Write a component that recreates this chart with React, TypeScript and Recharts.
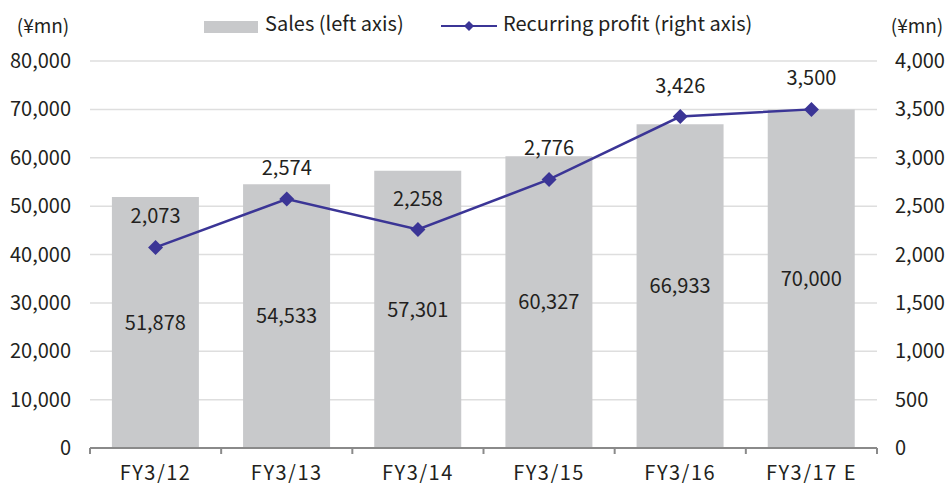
import {
  Bar,
  CartesianGrid,
  ComposedChart,
  LabelList,
  Line,
  XAxis,
  YAxis,
} from 'recharts';

const categories = ['FY3/12', 'FY3/13', 'FY3/14', 'FY3/15', 'FY3/16', 'FY3/17 E'];
const sales = [51878, 54533, 57301, 60327, 66933, 70000];
const profit = [2073, 2574, 2258, 2776, 3426, 3500];

const salesTicks = [0, 10000, 20000, 30000, 40000, 50000, 60000, 70000, 80000];
const profitTicks = [0, 500, 1000, 1500, 2000, 2500, 3000, 3500, 4000];

const BAR_COLOR = '#c8c9cb';
const LINE_COLOR = '#3b3596';
const AXIS_COLOR = '#8a8a8a';
const TEXT_COLOR = '#231f20';
const FONT = '"Noto Sans CJK JP", "Noto Sans", sans-serif';

const WIDTH = 949;
const HEIGHT = 483;
const LEFT_W = 90;
const RIGHT_W = 72;
// half a category band, used to put the small tick marks on category boundaries
const HALF_BAND = (WIDTH - LEFT_W - RIGHT_W) / categories.length / 2;

const fmt = (v: number) => Number(v).toLocaleString('en-US');

const data = categories.map((name, i) => ({ name, sales: sales[i], profit: profit[i] }));

function Diamond(props: any) {
  const { cx, cy } = props;
  if (cx == null || cy == null) return null;
  const r = 7.5;
  return (
    <polygon
      points={`${cx},${cy - r} ${cx + r},${cy} ${cx},${cy + r} ${cx - r},${cy}`}
      fill={LINE_COLOR}
    />
  );
}

function CategoryTick(props: any) {
  const { x, y, payload, index } = props;
  const last = index === categories.length - 1;
  return (
    <g>
      <line x1={x - HALF_BAND} y1={y - 19} x2={x - HALF_BAND} y2={y - 13} stroke={AXIS_COLOR} strokeWidth={2} />
      {last && (
        <line x1={x + HALF_BAND} y1={y - 19} x2={x + HALF_BAND} y2={y - 13} stroke={AXIS_COLOR} strokeWidth={2} />
      )}
      <text
        x={x}
        y={y + 13}
        textAnchor="middle"
        fontSize={20}
        letterSpacing={1.5}
        fill={TEXT_COLOR}
        fontFamily={FONT}
      >
        {payload.value}
      </text>
    </g>
  );
}

export default function App() {
  const tickStyle = { fontSize: 20, fill: TEXT_COLOR, fontFamily: FONT };
  return (
    <div
      style={{
        position: 'fixed',
        left: 0,
        top: 0,
        width: WIDTH,
        height: HEIGHT,
        background: '#fff',
        fontFamily: FONT,
        color: TEXT_COLOR,
      }}
    >
      <ComposedChart
        width={WIDTH}
        height={HEIGHT}
        data={data}
        margin={{ top: 61, right: 0, left: 0, bottom: 0 }}
        barCategoryGap="16.7%"
      >
        <CartesianGrid yAxisId="left" vertical={false} stroke="#dedede" strokeWidth={1.5} />
        <XAxis
          dataKey="name"
          axisLine={{ stroke: AXIS_COLOR, strokeWidth: 2 }}
          tickLine={false}
          tickSize={0}
          tickMargin={19}
          tick={<CategoryTick />}
          height={35}
          interval={0}
        />
        <YAxis
          yAxisId="left"
          domain={[0, 80000]}
          ticks={salesTicks}
          tickFormatter={fmt}
          axisLine={false}
          tickLine={false}
          tickSize={0}
          tickMargin={19}
          tick={tickStyle}
          width={LEFT_W}
          label={{
            value: '(¥mn)',
            position: 'top',
            offset: 28,
            dx: -2,
            style: { fontSize: 19, fill: TEXT_COLOR, fontFamily: FONT },
          }}
        />
        <YAxis
          yAxisId="right"
          orientation="right"
          domain={[0, 4000]}
          ticks={profitTicks}
          tickFormatter={fmt}
          axisLine={false}
          tickLine={false}
          tickSize={0}
          tickMargin={18}
          tick={{ ...tickStyle, textAnchor: 'start' }}
          width={RIGHT_W}
          label={{
            value: '(¥mn)',
            position: 'top',
            offset: 28,
            dx: 4,
            style: { fontSize: 19, fill: TEXT_COLOR, fontFamily: FONT },
          }}
        />
        <Bar yAxisId="left" dataKey="sales" fill={BAR_COLOR} isAnimationActive={false}>
          <LabelList
            dataKey="sales"
            position="center"
            formatter={fmt}
            style={{ fontSize: 20, fill: TEXT_COLOR, fontFamily: FONT }}
          />
        </Bar>
        <Line
          yAxisId="right"
          dataKey="profit"
          stroke={LINE_COLOR}
          strokeWidth={2.5}
          dot={<Diamond />}
          activeDot={false}
          isAnimationActive={false}
        >
          <LabelList
            dataKey="profit"
            position="top"
            offset={24}
            formatter={fmt}
            style={{ fontSize: 20, fill: TEXT_COLOR, fontFamily: FONT }}
          />
        </Line>
      </ComposedChart>

      {/* legend */}
      <div style={{ position: 'absolute', left: 204, top: 21, width: 54, height: 12, background: BAR_COLOR }} />
      <div style={{ position: 'absolute', left: 265, top: 13, fontSize: 20, lineHeight: '20px', whiteSpace: 'nowrap' }}>
        Sales (left axis)
      </div>
      <svg style={{ position: 'absolute', left: 440, top: 20 }} width={58} height={12}>
        <line x1={1} y1={6} x2={57} y2={6} stroke={LINE_COLOR} strokeWidth={2} />
        <polygon points="29,1 34,6 29,11 24,6" fill={LINE_COLOR} />
      </svg>
      <div style={{ position: 'absolute', left: 503, top: 13, fontSize: 20, lineHeight: '20px', whiteSpace: 'nowrap' }}>
        Recurring profit (right axis)
      </div>
    </div>
  );
}
